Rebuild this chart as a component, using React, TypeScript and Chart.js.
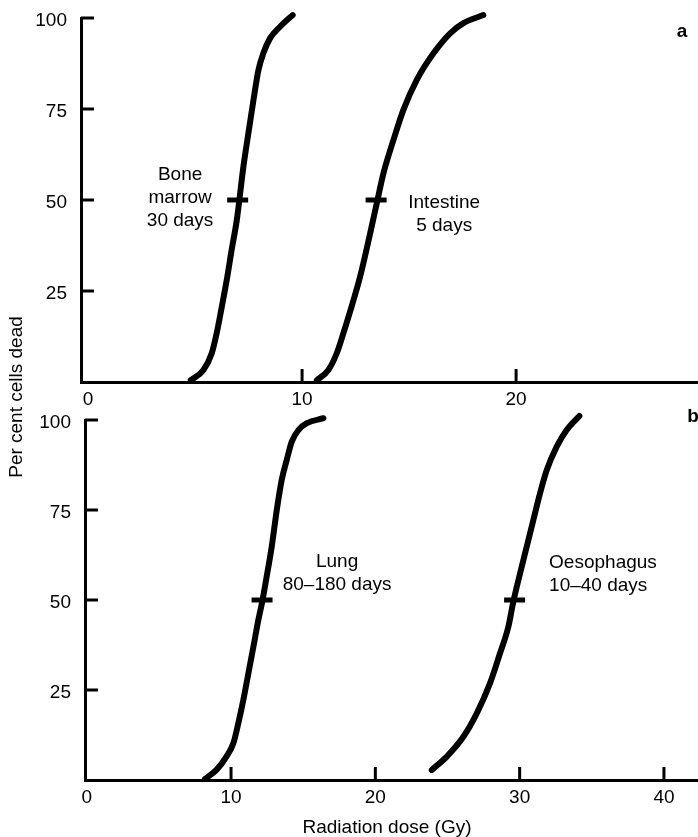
import React, { useEffect, useRef } from 'react';
import { Chart, registerables } from 'chart.js';

Chart.register(...registerables);

// ---- Data ----
// Panel a
const boneMarrowDose = [4.8, 5.39, 5.78, 6.01, 6.25, 6.48, 6.71, 6.95, 7.26, 7.49, 7.73, 7.96, 8.19, 8.5, 8.97, 9.56];
const boneMarrowDead = [0.5, 3.3, 7.9, 13.4, 20.7, 28, 36.3, 44.5, 59.2, 68.3, 77.5, 85.7, 90.3, 94.4, 97.6, 100.8];
const intestineDose = [10.69, 11.23, 11.62, 11.93, 12.2, 12.71, 13.18, 13.49, 13.8, 14.27, 14.73, 15.36, 16.14, 16.92, 17.54, 18.47];
const intestineDead = [0.5, 3.3, 7.9, 13.4, 18.5, 28.9, 40.8, 49.1, 57.3, 66.5, 74.7, 83, 90.3, 95.8, 98.6, 100.8];
// Panel b
const lungDose = [8.2, 8.99, 9.68, 10.16, 10.5, 10.85, 11.2, 11.55, 11.89, 12.17, 12.47, 12.82, 13.17, 13.51, 13.86, 14.21, 14.67, 15.25, 16.4];
const lungDead = [0.3, 2.8, 6.5, 10.2, 15.7, 22.2, 29.6, 37, 44.4, 49.7, 56.5, 64.8, 75, 83.3, 88.9, 94, 97.2, 99.1, 100.5];
const oesophagusDose = [23.91, 24.95, 26.1, 27.03, 27.95, 28.64, 29.22, 29.56, 30.03, 30.49, 30.95, 31.41, 31.88, 32.57, 33.26, 34.14];
const oesophagusDead = [2.8, 6.5, 12, 18.5, 26.9, 35.2, 42.6, 49.5, 57.4, 64.8, 72.2, 79.6, 86.1, 92.6, 97.2, 101.1];

// 50% dose markers (ED50)
const topMarkerDose = [6.99, 13.46];
const bottomMarkerDose = [12.15, 29.65];
const markerDead = 50;

// Tick values
const topXTicks = [0, 10, 20];
const bottomXTicks = [0, 10, 20, 30, 40];
const yTickValues = [25, 50, 75, 100];

// Axis ranges
const topXRange = [-0.33, 28.5];
const bottomXRange = [-0.12, 42.36];
const yRange = [0, 100];

// Text
const yTitle = 'Per cent cells dead';
const xTitle = 'Radiation dose (Gy)';
const topNotes = [
  { lines: ['Bone', 'marrow', '30 days'], x: 4.3, y: 56.9, align: 'center' },
  { lines: ['Intestine', '5 days'], x: 16.64, y: 49.2, align: 'center' },
];
const bottomNotes = [
  { lines: ['Lung', '80–180 days'], x: 17.35, y: 60.6, align: 'center' },
  { lines: ['Oesophagus', '10–40 days'], x: 32.04, y: 60.3, align: 'left' },
];

const FONT = '"Liberation Sans", Arial, Helvetica, sans-serif';
const FS = 19;
const W = 698;
const H = 837;

function pts(xs: number[], ys: number[]) {
  return xs.map((x, i) => ({ x, y: ys[i] }));
}

function curve(xs: number[], ys: number[]) {
  return {
    data: pts(xs, ys),
    borderColor: '#000',
    backgroundColor: '#000',
    borderWidth: 6,
    pointRadius: 0,
    cubicInterpolationMode: 'monotone',
    fill: false,
    clip: false,
    borderCapStyle: 'round',
    borderJoinStyle: 'round',
  } as any;
}

function markers(xs: number[]) {
  return {
    data: xs.map((x) => ({ x, y: markerDead })),
    showLine: false,
    pointStyle: 'line',
    pointRadius: 10.5,
    pointBorderWidth: 5,
    pointBorderColor: '#000',
    pointBackgroundColor: '#000',
    clip: false,
  } as any;
}

type Panel = {
  datasets: any[];
  xRange: number[];
  xTicks: number[];
  yWidth: number;
  xHeight: number;
  padTop: number;
  padBottom: number;
  notes: { lines: string[]; x: number; y: number; align: string }[];
  letter: string;
  letterDX: number;
  letterDY: number;
  extra: (ctx: CanvasRenderingContext2D) => void;
};

function zeroPad(s: any) {
  s.paddingLeft = 0;
  s.paddingRight = 0;
  s.paddingTop = 0;
  s.paddingBottom = 0;
}

function makeConfig(p: Panel): any {
  const deco = {
    id: 'deco',
    afterDraw(chart: any) {
      const ctx: CanvasRenderingContext2D = chart.ctx;
      const xs = chart.scales.x;
      const ys = chart.scales.y;
      const area = chart.chartArea;
      ctx.save();
      ctx.strokeStyle = '#000';
      ctx.lineWidth = 3;
      for (const v of p.xTicks) {
        if (v === 0) continue;
        const px = xs.getPixelForValue(v);
        ctx.beginPath();
        ctx.moveTo(px, area.bottom);
        ctx.lineTo(px, area.bottom - 13);
        ctx.stroke();
      }
      for (const v of yTickValues) {
        const py = ys.getPixelForValue(v);
        ctx.beginPath();
        ctx.moveTo(area.left, py);
        ctx.lineTo(area.left + 13, py);
        ctx.stroke();
      }
      ctx.fillStyle = '#000';
      ctx.font = `${FS}px ${FONT}`;
      ctx.textBaseline = 'middle';
      for (const n of p.notes) {
        ctx.textAlign = n.align as CanvasTextAlign;
        const px = xs.getPixelForValue(n.x);
        const py = ys.getPixelForValue(n.y);
        n.lines.forEach((t, i) => ctx.fillText(t, px, py + i * 23));
      }
      ctx.font = `bold ${FS}px ${FONT}`;
      ctx.textAlign = 'center';
      ctx.fillText(p.letter, area.right + p.letterDX, area.top + p.letterDY);
      p.extra(ctx);
      ctx.restore();
    },
  };

  return {
    type: 'line',
    data: { datasets: p.datasets },
    options: {
      animation: false,
      responsive: false,
      events: [],
      layout: { autoPadding: false, padding: { left: 0, right: 0, top: p.padTop, bottom: p.padBottom } },
      plugins: { legend: { display: false }, tooltip: { enabled: false } },
      scales: {
        x: {
          type: 'linear',
          min: p.xRange[0],
          max: p.xRange[1],
          afterFit: (s: any) => {
            s.height = p.xHeight;
            zeroPad(s);
          },
          afterBuildTicks: (s: any) => {
            s.ticks = p.xTicks.map((v) => ({ value: v }));
          },
          grid: { display: false, drawTicks: false },
          border: { display: true, color: '#000', width: 3 },
          ticks: {
            autoSkip: false,
            maxRotation: 0,
            minRotation: 0,
            padding: 6,
            color: '#000',
            font: { family: FONT, size: FS },
          },
        },
        y: {
          type: 'linear',
          min: yRange[0],
          max: yRange[1],
          afterFit: (s: any) => {
            s.width = p.yWidth;
            zeroPad(s);
          },
          afterBuildTicks: (s: any) => {
            s.ticks = yTickValues.map((v) => ({ value: v }));
          },
          grid: { display: false, drawTicks: false },
          border: { display: true, color: '#000', width: 3 },
          ticks: {
            padding: 14,
            labelOffset: 3,
            color: '#000',
            font: { family: FONT, size: FS },
          },
        },
      },
    },
    plugins: [deco],
  };
}

export default function App() {
  const topRef = useRef<HTMLCanvasElement>(null);
  const bottomRef = useRef<HTMLCanvasElement>(null);

  useEffect(() => {
    const top = new Chart(
      topRef.current as HTMLCanvasElement,
      makeConfig({
        datasets: [curve(boneMarrowDose, boneMarrowDead), curve(intestineDose, intestineDead), markers(topMarkerDose)],
        xRange: topXRange,
        xTicks: topXTicks,
        yWidth: 81,
        xHeight: 30,
        padTop: 18,
        padBottom: H - 382 - 30,
        notes: topNotes,
        letter: 'a',
        letterDX: -16,
        letterDY: 14,
        extra: (ctx) => {
          ctx.font = `${FS}px ${FONT}`;
          ctx.textAlign = 'center';
          ctx.textBaseline = 'middle';
          ctx.translate(17, 397);
          ctx.rotate(-Math.PI / 2);
          ctx.fillText(yTitle, 0, 0);
        },
      })
    );
    const bottom = new Chart(
      bottomRef.current as HTMLCanvasElement,
      makeConfig({
        datasets: [curve(lungDose, lungDead), curve(oesophagusDose, oesophagusDead), markers(bottomMarkerDose)],
        xRange: bottomXRange,
        xTicks: bottomXTicks,
        yWidth: 85,
        xHeight: 57,
        padTop: 420,
        padBottom: 0,
        notes: bottomNotes,
        letter: 'b',
        letterDX: -5,
        letterDY: -3,
        extra: (ctx) => {
          ctx.font = `${FS}px ${FONT}`;
          ctx.textAlign = 'center';
          ctx.textBaseline = 'middle';
          ctx.fillText(xTitle, 387, 828);
        },
      })
    );
    return () => {
      top.destroy();
      bottom.destroy();
    };
  }, []);

  return (
    <div style={{ position: 'fixed', left: 0, top: 0, width: W, height: H, background: '#fff' }}>
      <canvas ref={topRef} width={W} height={H} style={{ position: 'absolute', left: 0, top: 0, width: W, height: H }} />
      <canvas ref={bottomRef} width={W} height={H} style={{ position: 'absolute', left: 0, top: 0, width: W, height: H }} />
    </div>
  );
}
